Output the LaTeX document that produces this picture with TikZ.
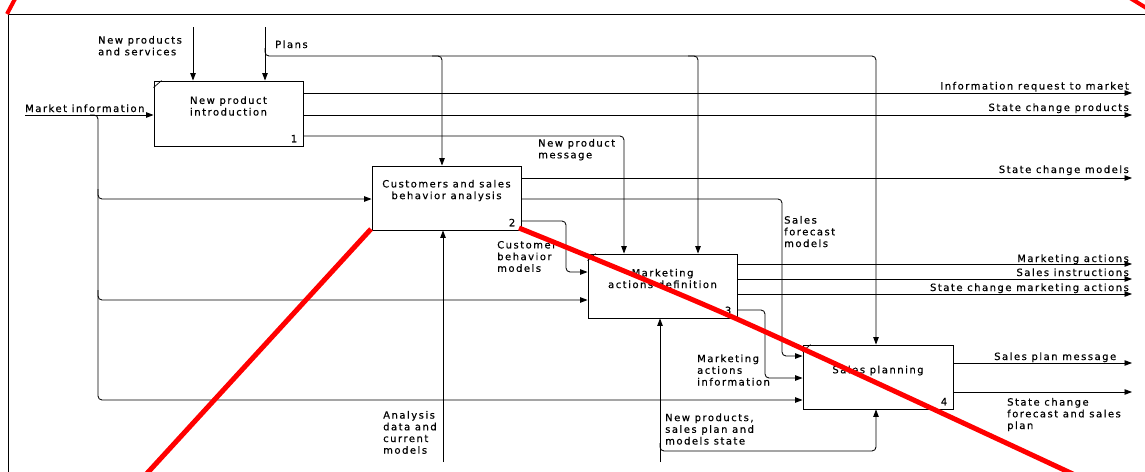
\documentclass[tikz,border=0pt]{standalone}
\usepackage{fontspec}
\usetikzlibrary{arrows.meta}
\newfontfamily\dvsans[LetterSpace=15,FakeBold=0.4]{DejaVu Sans}
\newcommand\labfont{\fontsize{10}{11.7}\selectfont\dvsans}
\begin{document}
\begin{tikzpicture}[x=1pt,y=-1pt,
  every node/.style={inner sep=0pt, font=\labfont},
  box/.style={draw, line width=0.9pt, minimum width=149pt, minimum height=64pt},
  flow/.style={draw, line width=0.85pt, rounded corners=4pt},
  arr/.style={flow, -{Triangle[length=7.5pt,width=5.5pt]}},
  txt/.style={align=center},
  lbl/.style={anchor=base west},
  rlbl/.style={anchor=base east},
  ml/.style={anchor=north west, align=left, execute at begin node=\strut},
  num/.style={anchor=south east},
  redm/.style={draw=red, line width=5pt},
  tick/.style={line width=0.7pt}]
\fill[white] (0,0) rectangle (1145,471);
\useasboundingbox (0,0) rectangle (1145,471);
% frame
\draw[line width=0.9pt] (8,475) -- (8,14) -- (1147,14);
% boxes
\node[box, minimum height=65pt] (b1) at (228.5,113.5) {};
\node[box] (b2) at (446.5,198) {};
\node[box] (b3) at (662.5,286) {};
\node[box, minimum width=150pt] (b4) at (878,377) {};
\node[txt] (t1) at ([yshift=7.5pt]b1.center) {New product\\introduction};
\node[txt] (t2) at ([yshift=7.5pt]b2.center) {Customers and sales\\behavior analysis};
\node[txt] (t3) at ([yshift=7.5pt]b3.center) {Marketing\\actions definition};
\node[txt] (t4) at ([yshift=6.5pt]b4.center) {Sales planning};
\node[num] (n1) at ([xshift=-6pt,yshift=4pt]b1.south east) {1};
\node[num] (n2) at ([xshift=-6pt,yshift=4pt]b2.south east) {2};
\node[num] (n3) at ([xshift=-6pt,yshift=4pt]b3.south east) {3};
\node[num] (n4) at ([xshift=-6pt,yshift=4pt]b4.south east) {4};
\draw[tick] ([yshift=-7pt]b1.north west) -- ([xshift=8pt]b1.north west);
\draw[tick] ([yshift=-7pt]b3.north west) -- ([xshift=8pt]b3.north west);
\draw[tick] ([yshift=-7pt]b4.north west) -- ([xshift=8pt]b4.north west);
% inputs / controls of box 1
\coordinate (nps) at (193,27);
\draw[arr] (nps) -- (nps |- b1.north);
\coordinate (pl) at (265,27);
\draw[arr] (pl) -- (pl |- b1.north);
\coordinate (plr) at (265,56);
\coordinate (pl2) at (442,56);
\coordinate (pl3) at (698,56);
\coordinate (pl4) at (876,56);
\draw[arr] ([yshift=8pt]plr) -- (plr) -- (pl4) -- (pl4 |- b4.north);
\draw[arr] ([xshift=-10pt]pl2) -- (pl2) -- (pl2 |- b2.north);
\draw[arr] ([xshift=-10pt]pl3) -- (pl3) -- (pl3 |- b3.north);
% market information
\coordinate (mi) at (25,115);
\draw[arr] (mi) -- (mi -| b1.west);
\coordinate (mj) at (98,115);
\coordinate (m2) at (98,199);
\coordinate (m3) at (98,300);
\coordinate (m4) at (98,400);
\draw[arr] ([xshift=-8pt]mj) -- (mj) -- (m4) -- (m4 -| b4.west);
\draw[arr] ([yshift=10pt]m2) -- (m2) -- (m2 -| b2.west);
\draw[arr] ([yshift=10pt]m3) -- (m3) -- (m3 -| b3.west);
% outputs of box 1
\coordinate (e1) at (1132,93);
\coordinate (e2) at (1132,115);
\draw[arr] (e1 -| b1.east) -- (e1);
\draw[arr] (e2 -| b1.east) -- (e2);
\coordinate (npm) at (624,136);
\draw[arr] (npm -| b1.east) -- (npm) -- (npm |- b3.north);
% outputs of box 2
\coordinate (e3) at (1132,178);
\draw[arr] (e3 -| b2.east) -- (e3);
\coordinate (sf1) at (782,199);
\coordinate (sf2) at (782,356);
\draw[arr] (sf1 -| b2.east) -- (sf1) -- (sf2) -- (sf2 -| b4.west);
\coordinate (cb1) at (566,221);
\coordinate (cb2) at (566,272);
\draw[arr] (cb1 -| b2.east) -- (cb1) -- (cb2) -- (cb2 -| b3.west);
% outputs of box 3
\coordinate (e4) at (1132,264);
\coordinate (e5) at (1132,279);
\coordinate (e6) at (1132,294);
\draw[arr] (e4 -| b3.east) -- (e4);
\draw[arr] (e5 -| b3.east) -- (e5);
\draw[arr] (e6 -| b3.east) -- (e6);
\coordinate (ma1) at (765,310);
\coordinate (ma2) at (765,378);
\draw[arr] (ma1 -| b3.east) -- (ma1) -- (ma2) -- (ma2 -| b4.west);
% outputs of box 4
\coordinate (e7) at (1132,363);
\coordinate (e8) at (1132,392);
\draw[arr] (e7 -| b4.east) -- (e7);
\draw[arr] (e8 -| b4.east) -- (e8);
% mechanisms
\coordinate (an) at (443,462);
\draw[arr] (an) -- (an |- b2.south);
\coordinate (np) at (660,462);
\draw[arr] (np) -- (np |- b3.south);
\coordinate (npj) at (660,451);
\coordinate (np4) at (876,451);
\draw[arr] ([yshift=8pt]npj) -- (npj) -- (np4) -- (np4 |- b4.south);
% labels
\node[ml] (lnps) at (98,35.8) {New products\\and services};
\node[lbl] (lpl) at (275,48) {Plans};
\node[lbl] (lmi) at (25,112) {Market information};
\node[rlbl] (le1) at (1129,89.5) {Information request to market};
\node[rlbl] (le2) at (1129,111) {State change products};
\node[ml] (lnpm) at (538,138.8) {New product\\message};
\node[rlbl] (le3) at (1129,173) {State change models};
\node[ml] (lsf) at (784,215.8) {Sales\\forecast\\models};
\node[ml] (lcb) at (497,240.8) {Customer\\behavior\\models};
\node[rlbl] (le4) at (1129,262) {Marketing actions};
\node[rlbl] (le5) at (1129,276) {Sales instructions};
\node[rlbl] (le6) at (1129,291) {State change marketing actions};
\node[ml] (lma) at (697,354.3) {Marketing\\actions\\information};
\node[lbl] (le7) at (994,360) {Sales plan message};
\node[ml] (le8) at (1007,397.8) {State change\\forecast and sales\\plan};
\node[ml] (lan) at (383,410.8) {Analysis\\data and\\current\\models};
\node[ml] (lnp) at (665,413.3) {New products,\\sales plan and\\models state};
% red marks
\draw[redm] (371,229) -- (140,481);
\draw[redm] plot[smooth] coordinates {(519,228) (737,319) (1075,475)};
\draw[redm, line width=4pt] (16,-3) -- (7,14);
\draw[redm, line width=4pt] (1130,-2) -- (1148,9);
\end{tikzpicture}
\end{document}
